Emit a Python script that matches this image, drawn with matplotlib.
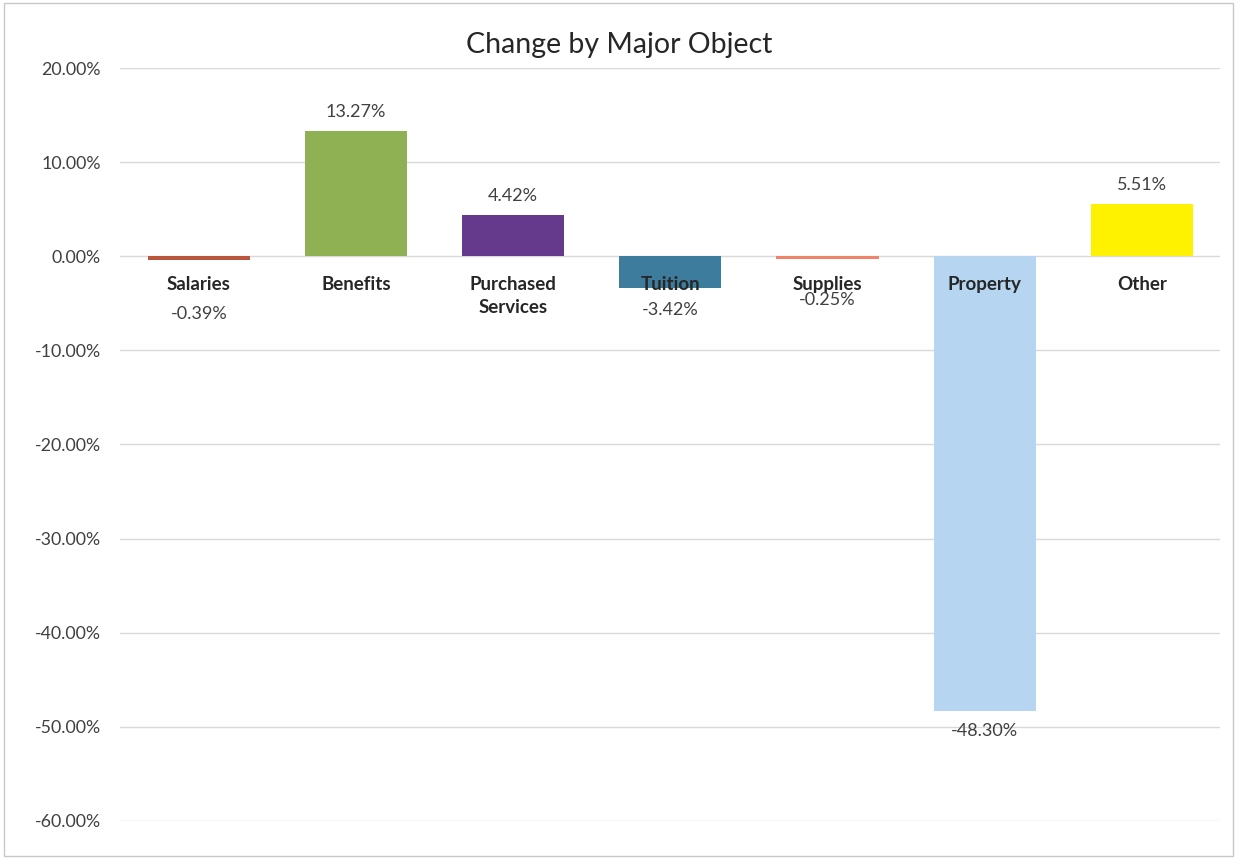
import matplotlib.pyplot as plt
from matplotlib.patches import Rectangle

categories = ["Salaries", "Benefits", "Purchased\nServices", "Tuition", "Supplies", "Property", "Other"]
changes = [-0.39, 13.27, 4.42, -3.42, -0.25, -48.30, 5.51]
colors = ["#B9563D", "#8FB153", "#653A8C", "#3D7C9C", "#F0836A", "#B5D5F0", "#FFF200"]
yticks = [20, 10, 0, -10, -20, -30, -40, -50, -60]

# value label offsets in points
value_offsets = [-33, 8, 8, -10, -24, -9, 8]

plt.rcParams['font.family'] = ['Lato', 'DejaVu Sans']

fig = plt.figure(figsize=(12.39, 8.61), dpi=100)
ax = fig.add_axes([0.097, 0.0465, 0.888, 0.8745])

x = range(len(categories))
bars = ax.bar(x, changes, width=0.65, color=colors, zorder=3)

ax.set_ylim(-60, 20)
ax.set_xlim(-0.5, len(categories) - 0.5)
ax.set_yticks(yticks)
ax.set_yticklabels(["%.2f%%" % v for v in yticks], fontsize=12.8, color="#404040")
ax.set_xticks([])
ax.grid(axis="y", color="#d9d9d9", linewidth=1, zorder=0)
ax.tick_params(axis="y", length=0, pad=14)
for s in ax.spines.values():
    s.set_visible(False)

for i, (name, v) in enumerate(zip(categories, changes)):
    ax.annotate(name, (i, 0), xytext=(0, -14), textcoords="offset points",
                ha="center", va="top", fontsize=13.5, fontweight="bold",
                color="#262626", linespacing=1.45, zorder=4)
    ax.annotate("%.2f%%" % v, (i, v), xytext=(0, value_offsets[i]),
                textcoords="offset points", ha="center",
                va="bottom" if value_offsets[i] > 0 else "top",
                fontsize=13, color="#404040", zorder=4)

fig.text(0.5, 0.948, "Change by Major Object", ha="center", va="center",
         fontsize=20.5, color="#262626")

fig.patches.append(Rectangle((0.003, 0.006), 0.992, 0.99, transform=fig.transFigure,
                             fill=False, edgecolor="#c8c8c8", linewidth=1))

fig.savefig("out.png", dpi=100)
